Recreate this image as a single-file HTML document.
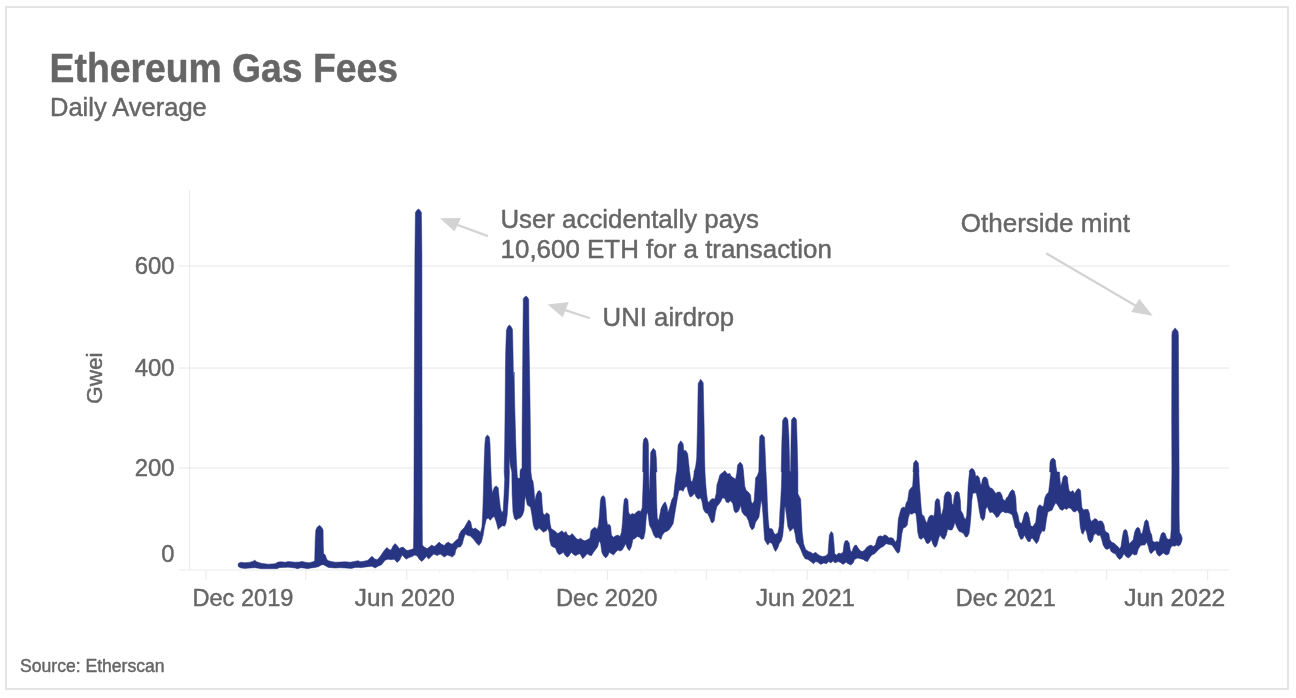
<!DOCTYPE html>
<html lang="en">
<head>
<meta charset="utf-8">
<title>Ethereum Gas Fees</title>
<style>
html,body{margin:0;padding:0;background:#fff;}
body{width:1296px;height:698px;overflow:hidden;}
svg{display:block;font-family:"Liberation Sans",sans-serif;}
text{fill:#666666;stroke:#666666;stroke-width:0.45px;stroke-linejoin:round;}
</style>
</head>
<body>
<svg width="1296" height="698" viewBox="0 0 1296 698" role="img" aria-label="Ethereum Gas Fees, daily average line chart">
<rect x="0" y="0" width="1296" height="698" fill="#ffffff"/>
<rect x="6" y="7" width="1282" height="682" fill="none" stroke="#e4e4e4" stroke-width="2"/>
<text x="49.6" y="81.7" font-size="41" font-weight="bold" textLength="348.4" lengthAdjust="spacingAndGlyphs">Ethereum Gas Fees</text>
<text x="50" y="115.7" font-size="25.6" textLength="156.8" lengthAdjust="spacingAndGlyphs">Daily Average</text>
<g stroke="#e6e6e6" stroke-width="1" fill="none">
<line x1="189.6" y1="190" x2="189.6" y2="570" stroke="#eaeaea"/>
<line x1="179" y1="266" x2="1229" y2="266"/>
<line x1="179" y1="368" x2="1229" y2="368"/>
<line x1="179" y1="468" x2="1229" y2="468"/>
<line x1="179" y1="570" x2="1229" y2="570" stroke="#ebebeb"/>
<line x1="206.00" y1="570" x2="206.00" y2="580" stroke="#e9e9e9"/>
<line x1="240.01" y1="570" x2="240.01" y2="574.5" stroke="#f4f4f4"/>
<line x1="274.02" y1="570" x2="274.02" y2="574.5" stroke="#f4f4f4"/>
<line x1="305.84" y1="570" x2="305.84" y2="580" stroke="#e9e9e9"/>
<line x1="339.85" y1="570" x2="339.85" y2="574.5" stroke="#f4f4f4"/>
<line x1="372.77" y1="570" x2="372.77" y2="574.5" stroke="#f4f4f4"/>
<line x1="406.78" y1="570" x2="406.78" y2="580" stroke="#e9e9e9"/>
<line x1="439.69" y1="570" x2="439.69" y2="574.5" stroke="#f4f4f4"/>
<line x1="473.70" y1="570" x2="473.70" y2="574.5" stroke="#f4f4f4"/>
<line x1="507.72" y1="570" x2="507.72" y2="580" stroke="#e9e9e9"/>
<line x1="540.63" y1="570" x2="540.63" y2="574.5" stroke="#f4f4f4"/>
<line x1="574.64" y1="570" x2="574.64" y2="574.5" stroke="#f4f4f4"/>
<line x1="607.56" y1="570" x2="607.56" y2="580" stroke="#e9e9e9"/>
<line x1="641.57" y1="570" x2="641.57" y2="574.5" stroke="#f4f4f4"/>
<line x1="675.58" y1="570" x2="675.58" y2="574.5" stroke="#f4f4f4"/>
<line x1="706.30" y1="570" x2="706.30" y2="580" stroke="#e9e9e9"/>
<line x1="740.31" y1="570" x2="740.31" y2="574.5" stroke="#f4f4f4"/>
<line x1="773.23" y1="570" x2="773.23" y2="574.5" stroke="#f4f4f4"/>
<line x1="807.24" y1="570" x2="807.24" y2="580" stroke="#e9e9e9"/>
<line x1="840.15" y1="570" x2="840.15" y2="574.5" stroke="#f4f4f4"/>
<line x1="874.16" y1="570" x2="874.16" y2="574.5" stroke="#f4f4f4"/>
<line x1="908.18" y1="570" x2="908.18" y2="580" stroke="#e9e9e9"/>
<line x1="941.09" y1="570" x2="941.09" y2="574.5" stroke="#f4f4f4"/>
<line x1="975.10" y1="570" x2="975.10" y2="574.5" stroke="#f4f4f4"/>
<line x1="1008.02" y1="570" x2="1008.02" y2="580" stroke="#e9e9e9"/>
<line x1="1042.03" y1="570" x2="1042.03" y2="574.5" stroke="#f4f4f4"/>
<line x1="1076.04" y1="570" x2="1076.04" y2="574.5" stroke="#f4f4f4"/>
<line x1="1106.76" y1="570" x2="1106.76" y2="580" stroke="#e9e9e9"/>
<line x1="1140.77" y1="570" x2="1140.77" y2="574.5" stroke="#f4f4f4"/>
<line x1="1173.69" y1="570" x2="1173.69" y2="574.5" stroke="#f4f4f4"/>
<line x1="1207.70" y1="570" x2="1207.70" y2="580" stroke="#e9e9e9"/>
</g>
<g font-size="24.6" text-anchor="end">
<text x="174.5" y="274.3" textLength="39.8" lengthAdjust="spacingAndGlyphs">600</text>
<text x="174.5" y="376.3" textLength="39.8" lengthAdjust="spacingAndGlyphs">400</text>
<text x="174.5" y="476.3" textLength="39.8" lengthAdjust="spacingAndGlyphs">200</text>
<text x="174.5" y="562.1" textLength="13.2" lengthAdjust="spacingAndGlyphs">0</text>
</g>
<text transform="translate(101.7,378.2) rotate(-90)" font-size="22.5" text-anchor="middle" textLength="51.5" lengthAdjust="spacingAndGlyphs">Gwei</text>
<g font-size="24.6">
<text x="192.4" y="606.3" textLength="101" lengthAdjust="spacingAndGlyphs">Dec 2019</text>
<text x="354.8" y="606.3" textLength="100" lengthAdjust="spacingAndGlyphs">Jun 2020</text>
<text x="556" y="606.3" textLength="101.5" lengthAdjust="spacingAndGlyphs">Dec 2020</text>
<text x="756" y="606.3" textLength="99" lengthAdjust="spacingAndGlyphs">Jun 2021</text>
<text x="955.8" y="606.3" textLength="100" lengthAdjust="spacingAndGlyphs">Dec 2021</text>
<text x="1124.2" y="606.3" textLength="101" lengthAdjust="spacingAndGlyphs">Jun 2022</text>
</g>
<g font-size="26.2">
<text x="500.4" y="227.7" textLength="258.5" lengthAdjust="spacingAndGlyphs">User accidentally pays</text>
<text x="500.6" y="257.9" textLength="331.3" lengthAdjust="spacingAndGlyphs">10,600 ETH for a transaction</text>
<text x="602.6" y="325.7" textLength="131.6" lengthAdjust="spacingAndGlyphs">UNI airdrop</text>
<text x="960.8" y="231.7" textLength="169.1" lengthAdjust="spacingAndGlyphs">Otherside mint</text>
</g>
<g stroke="#d3d3d3" stroke-width="2.2" fill="#d3d3d3">
<line x1="488" y1="236.1" x2="455" y2="224"/>
<polygon stroke="none" points="440,218.2 461,217.9 454.5,231.4"/>
<line x1="589.9" y1="318.2" x2="563" y2="309.4"/>
<polygon stroke="none" points="547.7,304.4 568.7,302.1 562.8,317.2"/>
<line x1="1046.1" y1="253.2" x2="1137" y2="306.5"/>
<polygon stroke="none" points="1152.7,315.8 1139.3,298.8 1131.2,311.9"/>
</g>
<path d="M238.0 565.0 L238.5 563.2 L241.0 562.2 L245.0 562.7 L250.0 562.2 L253.1 561.2 L254.8 560.2 L256.6 561.7 L261.1 563.2 L268.1 564.2 L275.1 563.7 L278.1 562.0 L281.1 561.7 L285.2 562.2 L288.2 561.5 L295.2 562.2 L299.2 562.0 L302.2 561.4 L305.2 562.2 L309.2 562.7 L313.2 561.7 L314.7 560.7 L315.2 540.1 L315.8 530.1 L317.3 527.1 L319.6 525.2 L321.8 527.6 L323.1 530.1 L323.3 545.1 L323.6 553.6 L325.3 555.1 L326.8 559.2 L328.3 560.7 L331.3 561.4 L335.3 562.2 L340.3 562.0 L345.3 561.7 L350.4 562.2 L355.4 561.2 L358.4 560.7 L360.0 561.7 L364.0 561.2 L368.0 560.2 L370.0 557.9 L372.0 556.3 L374.5 558.7 L377.1 559.7 L380.1 556.6 L383.1 552.1 L385.1 549.3 L387.1 547.6 L389.1 549.6 L391.1 550.1 L392.6 546.6 L395.1 543.6 L397.6 546.1 L399.1 548.6 L401.1 547.6 L403.1 547.1 L405.1 549.1 L407.1 550.6 L409.2 550.1 L411.2 549.6 L413.5 548.6 L413.9 510.0 L414.2 400.0 L414.9 255.0 L415.4 212.5 L416.8 210.3 L418.4 209.1 L420.0 210.3 L421.4 212.5 L421.9 255.0 L422.0 400.0 L422.2 510.0 L422.4 545.1 L424.2 547.1 L427.2 548.6 L429.2 547.1 L431.7 545.1 L434.2 546.6 L436.2 545.1 L439.2 542.1 L441.3 544.1 L444.3 545.6 L445.8 543.6 L448.3 542.1 L450.3 543.6 L452.3 544.1 L454.3 542.1 L456.3 540.1 L458.3 538.6 L459.3 534.1 L461.3 530.6 L464.3 527.6 L466.3 524.0 L468.8 519.8 L470.8 522.0 L471.8 527.6 L473.4 529.1 L475.4 528.1 L477.9 530.1 L479.9 531.6 L480.3 532.9 L482.0 526.5 L482.9 507.8 L483.5 486.3 L483.9 472.0 L484.3 458.0 L484.9 443.7 L485.5 437.6 L486.5 435.9 L487.5 435.1 L488.5 435.9 L489.5 437.6 L490.0 443.7 L490.5 458.0 L491.0 472.0 L491.5 483.5 L492.2 493.5 L493.2 489.9 L494.6 487.0 L496.3 485.9 L498.2 487.8 L499.2 497.8 L500.4 507.8 L501.8 512.8 L503.2 510.7 L504.1 493.5 L504.7 479.2 L504.2 472.0 L504.7 443.7 L505.1 407.8 L505.4 372.0 L505.7 351.7 L506.4 330.2 L507.8 326.6 L509.4 325.1 L511.1 326.6 L512.5 329.4 L513.0 351.7 L513.5 380.0 L514.1 372.0 L514.8 407.8 L515.6 436.5 L516.3 458.0 L517.0 470.9 L517.3 476.3 L518.0 478.3 L519.0 478.6 L519.9 477.7 L520.1 470.9 L520.7 469.2 L522.0 468.3 L522.1 429.3 L522.6 372.0 L522.9 337.3 L523.3 298.6 L524.7 296.9 L525.9 296.1 L527.2 296.9 L528.7 299.3 L529.0 337.3 L529.7 380.0 L530.2 415.0 L530.9 472.0 L531.9 479.2 L533.0 481.3 L534.0 489.2 L534.8 500.7 L536.2 494.9 L537.9 491.3 L539.8 490.6 L541.6 493.5 L542.2 505.0 L543.1 513.6 L544.8 515.0 L546.5 512.8 L548.4 513.8 L549.4 515.0 L550.1 523.6 L551.2 528.6 L553.4 530.0 L555.5 531.5 L557.7 533.6 L559.8 532.2 L562.0 530.8 L564.1 532.9 L566.0 531.5 L567.7 535.1 L569.9 535.8 L572.0 533.6 L574.2 535.8 L576.3 538.6 L578.5 539.4 L580.6 538.2 L582.8 540.1 L584.9 540.8 L587.8 539.4 L589.9 537.9 L590.9 530.8 L592.8 528.6 L594.9 527.2 L597.1 529.3 L598.5 525.0 L599.5 515.0 L600.4 500.7 L601.4 497.1 L603.3 495.6 L605.0 497.8 L606.0 507.8 L606.7 519.3 L607.6 525.0 L609.3 524.3 L610.7 526.5 L611.4 535.1 L613.6 537.2 L615.7 535.8 L617.9 535.1 L620.0 536.5 L621.5 532.2 L622.5 522.2 L623.3 507.8 L624.3 499.2 L626.0 497.8 L627.9 499.9 L628.6 512.1 L630.1 515.0 L632.2 513.6 L634.4 514.3 L636.5 512.1 L638.7 510.7 L640.8 511.4 L642.2 507.8 L643.0 486.3 L643.4 472.0 L642.7 472.0 L643.0 443.7 L643.7 439.4 L645.6 437.2 L647.6 439.4 L648.4 443.7 L648.7 472.0 L649.0 486.6 L649.3 493.1 L649.6 486.6 L650.0 472.0 L650.7 452.3 L653.3 448.2 L655.6 450.8 L656.3 458.0 L656.9 472.0 L655.9 472.0 L656.6 500.7 L657.3 517.9 L658.7 520.7 L661.0 508.5 L663.1 504.2 L665.3 501.8 L667.0 506.4 L667.9 512.8 L669.6 507.8 L671.7 499.9 L673.6 496.4 L674.6 486.3 L675.8 476.3 L676.5 472.0 L676.7 472.0 L677.4 458.0 L678.1 445.1 L680.7 440.8 L683.1 443.7 L683.8 450.8 L685.7 450.5 L687.7 453.7 L688.9 465.1 L689.6 472.0 L689.7 472.0 L690.8 480.6 L692.2 482.0 L693.7 476.3 L694.2 472.0 L693.9 472.0 L695.3 468.0 L696.0 463.7 L696.7 458.0 L697.4 429.3 L697.9 400.7 L698.2 383.5 L700.6 379.2 L703.2 382.7 L703.6 400.7 L704.2 429.3 L704.6 458.0 L705.0 472.0 L705.0 472.0 L705.7 483.5 L706.6 493.5 L707.6 500.7 L709.0 502.8 L710.4 499.9 L712.6 498.5 L714.7 499.2 L716.2 493.5 L716.9 484.9 L718.3 480.6 L719.8 474.9 L721.9 473.1 L723.2 472.3 L724.7 470.6 L726.1 472.3 L727.6 474.1 L729.8 473.4 L731.2 476.3 L733.4 477.7 L735.5 479.2 L737.0 472.0 L736.9 472.0 L737.6 465.1 L740.2 462.0 L742.6 465.1 L743.6 472.0 L743.5 472.0 L744.8 486.3 L746.3 490.6 L748.4 492.1 L750.6 494.9 L751.3 502.1 L752.7 503.5 L754.1 500.7 L754.9 489.2 L755.6 477.7 L757.0 476.3 L758.7 472.0 L758.8 472.0 L759.4 443.7 L759.8 436.5 L761.9 434.3 L764.5 437.2 L765.1 450.8 L766.0 472.0 L766.0 472.0 L766.8 486.3 L767.3 500.7 L768.2 519.3 L769.2 528.6 L771.1 528.6 L772.5 529.3 L774.2 533.6 L775.6 534.3 L777.8 532.9 L779.2 526.5 L779.9 512.1 L780.7 500.7 L781.4 486.3 L781.8 472.0 L781.2 472.0 L781.8 443.7 L782.6 420.7 L784.0 418.1 L785.5 417.1 L786.9 418.1 L787.9 420.0 L788.9 436.5 L789.8 470.9 L790.2 471.6 L790.6 470.9 L791.1 436.5 L791.5 420.0 L792.9 417.9 L794.1 417.1 L795.4 418.1 L796.5 420.0 L797.2 443.7 L797.9 472.0 L797.9 493.5 L799.3 496.4 L800.7 499.2 L801.4 515.0 L802.2 532.2 L803.6 543.7 L805.7 549.4 L808.6 551.5 L810.8 552.3 L812.9 553.7 L815.8 552.3 L817.9 554.4 L820.1 555.8 L822.9 556.6 L825.8 555.8 L828.0 553.7 L828.7 543.7 L829.4 535.1 L831.2 531.5 L833.0 533.6 L834.0 543.7 L834.7 553.7 L836.6 555.1 L838.7 553.0 L840.9 553.7 L843.0 552.3 L844.1 543.7 L845.2 540.8 L846.0 540.8 L847.4 540.5 L849.2 542.9 L850.3 550.1 L851.7 552.3 L853.2 548.0 L854.6 545.4 L856.3 545.1 L858.2 548.0 L860.3 550.8 L862.5 551.5 L864.6 550.1 L866.8 547.2 L868.9 545.8 L871.1 545.1 L873.2 546.5 L875.4 545.1 L876.8 539.4 L878.2 536.5 L880.4 535.8 L882.5 536.5 L884.7 534.8 L886.8 535.8 L889.0 537.9 L891.1 537.6 L893.3 538.6 L895.4 542.2 L896.9 539.4 L897.6 529.3 L898.3 519.3 L899.7 513.6 L901.2 508.5 L903.3 507.1 L905.0 507.8 L906.2 502.8 L907.6 500.7 L909.1 490.6 L911.2 487.8 L912.6 486.3 L913.1 479.2 L913.4 472.0 L913.0 472.0 L913.6 463.0 L915.9 460.1 L918.3 463.0 L919.0 472.0 L918.8 472.0 L919.4 483.5 L920.2 493.5 L921.2 507.8 L922.0 514.3 L924.1 516.4 L925.5 520.7 L927.0 522.9 L928.4 517.9 L929.8 515.7 L932.0 515.0 L933.7 516.4 L934.6 512.1 L935.1 502.1 L936.3 499.2 L937.7 498.5 L939.4 499.9 L940.3 507.8 L941.0 515.0 L942.0 513.6 L943.4 507.8 L944.2 496.4 L945.6 492.8 L947.7 491.6 L949.9 492.3 L951.3 494.9 L952.0 503.5 L953.2 505.0 L954.2 496.4 L955.2 492.8 L957.1 491.3 L959.2 492.8 L960.4 500.7 L960.9 510.7 L962.8 513.6 L964.2 517.9 L965.7 519.3 L966.7 515.0 L967.5 500.7 L968.1 486.3 L969.0 476.3 L969.5 472.0 L969.0 472.0 L970.0 469.7 L971.9 468.3 L973.9 469.7 L974.8 472.0 L975.0 472.0 L975.7 476.3 L977.6 475.6 L979.3 477.7 L980.4 483.5 L981.4 484.9 L982.4 479.2 L983.9 477.0 L985.7 477.0 L987.6 479.2 L988.6 484.9 L990.0 487.8 L992.2 488.5 L994.3 491.3 L995.8 493.5 L997.9 492.1 L1000.1 492.1 L1001.9 494.9 L1002.9 499.2 L1005.1 500.7 L1006.5 497.8 L1007.9 496.4 L1010.1 492.1 L1012.2 489.5 L1014.4 491.3 L1015.8 497.8 L1016.5 510.7 L1018.0 515.0 L1019.4 522.2 L1021.6 523.6 L1023.0 519.3 L1024.4 513.6 L1026.3 511.4 L1028.0 512.8 L1029.4 517.9 L1030.7 525.7 L1032.9 526.5 L1035.7 522.2 L1037.2 509.3 L1038.6 505.7 L1040.0 504.7 L1042.2 506.4 L1043.6 505.7 L1044.8 497.8 L1046.5 494.2 L1048.6 492.1 L1049.6 483.5 L1050.5 474.9 L1050.8 472.0 L1049.6 472.0 L1050.0 462.3 L1051.0 459.4 L1053.2 458.0 L1055.3 460.1 L1056.0 466.6 L1057.0 472.0 L1059.4 472.0 L1060.1 480.6 L1060.8 486.3 L1062.0 482.0 L1063.0 477.0 L1065.1 475.2 L1067.3 477.0 L1068.0 483.5 L1069.1 490.6 L1070.9 492.1 L1073.0 490.6 L1074.4 493.5 L1075.9 491.3 L1077.3 489.2 L1078.7 488.5 L1080.6 490.6 L1081.3 500.7 L1082.0 507.8 L1083.8 510.0 L1085.9 509.3 L1088.1 509.5 L1089.5 513.6 L1090.2 519.3 L1091.6 521.4 L1093.1 520.0 L1094.9 518.6 L1096.7 519.3 L1098.4 521.4 L1100.2 520.7 L1102.4 521.4 L1104.1 525.0 L1105.0 530.8 L1106.7 532.2 L1108.8 533.6 L1109.8 539.4 L1111.7 542.2 L1113.9 542.9 L1116.0 545.1 L1117.9 546.5 L1119.6 548.7 L1121.0 546.5 L1122.4 536.5 L1123.6 530.8 L1125.3 529.3 L1127.0 530.8 L1128.2 536.5 L1129.2 543.7 L1131.0 542.2 L1133.2 539.4 L1134.6 532.2 L1136.1 528.6 L1137.9 527.2 L1139.6 528.6 L1140.8 533.6 L1142.2 533.6 L1143.7 526.5 L1144.7 521.4 L1146.5 519.6 L1148.2 521.4 L1149.4 527.9 L1150.4 532.2 L1151.8 535.1 L1152.5 540.8 L1154.7 542.2 L1156.8 541.5 L1159.0 542.2 L1160.4 536.5 L1161.4 533.6 L1163.3 532.2 L1165.2 533.6 L1166.6 537.9 L1168.3 539.4 L1170.5 538.6 L1171.2 529.3 L1171.5 500.7 L1171.9 472.0 L1171.7 420.0 L1171.9 335.0 L1172.3 331.4 L1175.1 327.9 L1178.0 331.4 L1178.4 335.0 L1178.8 420.0 L1179.1 472.0 L1179.1 515.0 L1179.5 532.2 L1181.2 535.1 L1182.2 537.9 L1182.2 537.9 L1181.9 540.8 L1180.5 544.4 L1178.3 546.2 L1176.9 545.1 L1174.8 546.2 L1172.6 545.8 L1170.5 548.0 L1169.0 553.7 L1166.9 555.1 L1165.2 554.4 L1163.3 553.0 L1161.1 555.1 L1159.0 556.3 L1156.8 553.7 L1155.4 549.4 L1153.3 551.5 L1151.1 553.7 L1149.7 552.3 L1148.2 546.5 L1146.8 542.2 L1144.7 545.1 L1142.5 545.1 L1140.4 545.8 L1138.2 549.4 L1136.8 554.4 L1134.6 555.1 L1132.5 553.7 L1130.3 556.6 L1128.2 558.0 L1126.0 556.6 L1123.9 553.7 L1121.7 558.0 L1119.6 559.4 L1117.4 557.3 L1115.3 553.7 L1113.1 553.0 L1111.0 551.5 L1109.6 548.0 L1107.4 549.4 L1105.3 548.7 L1103.1 545.1 L1101.7 539.4 L1100.2 535.1 L1098.1 535.8 L1095.9 533.6 L1093.8 535.1 L1092.4 540.8 L1090.2 542.9 L1088.1 539.4 L1086.6 532.2 L1085.2 529.3 L1083.0 534.3 L1081.6 532.9 L1080.2 526.5 L1079.2 513.6 L1077.3 510.0 L1075.2 512.1 L1073.0 511.4 L1070.9 508.5 L1068.7 507.8 L1066.6 509.5 L1064.4 508.5 L1062.3 510.4 L1060.1 509.3 L1058.0 505.7 L1055.8 502.8 L1053.7 506.4 L1052.2 510.0 L1050.1 511.0 L1047.9 512.1 L1046.5 519.3 L1045.1 529.3 L1044.3 531.5 L1042.2 530.8 L1040.0 535.1 L1038.6 540.8 L1036.5 543.7 L1034.3 540.8 L1032.2 537.9 L1030.7 539.4 L1030.2 541.5 L1028.0 541.5 L1025.9 537.9 L1024.4 535.1 L1023.0 538.6 L1020.8 539.4 L1018.7 535.1 L1017.3 529.3 L1015.1 527.2 L1013.7 520.7 L1012.2 515.0 L1010.1 513.6 L1007.9 512.8 L1005.1 512.8 L1002.9 511.4 L1000.8 512.8 L998.6 516.4 L996.5 517.6 L994.3 514.3 L992.2 512.1 L990.0 512.8 L988.6 510.0 L987.2 506.4 L985.7 509.3 L984.7 517.9 L982.9 520.7 L980.7 517.9 L979.3 510.7 L977.8 500.7 L976.4 493.5 L975.0 492.8 L972.8 493.5 L971.8 500.7 L971.0 515.0 L970.0 526.5 L969.0 533.6 L967.5 536.5 L965.7 537.2 L963.5 533.6 L961.4 532.2 L959.2 531.5 L957.1 527.9 L954.9 522.2 L953.8 526.5 L952.0 530.0 L949.9 530.0 L947.7 529.3 L946.3 535.1 L944.2 539.4 L942.0 537.9 L939.9 535.1 L938.4 539.4 L937.0 545.1 L935.6 547.2 L934.1 546.5 L932.7 543.7 L931.3 539.4 L929.8 542.2 L928.0 543.7 L926.3 542.9 L924.8 539.4 L923.4 537.2 L921.2 539.4 L919.1 537.9 L917.7 532.2 L916.9 522.2 L915.9 513.6 L914.1 512.8 L911.9 514.3 L909.8 513.6 L908.3 517.9 L907.3 525.0 L905.5 527.2 L903.3 527.9 L901.9 533.6 L900.7 543.7 L899.7 551.5 L897.9 553.4 L896.2 551.5 L894.0 548.0 L891.9 545.1 L889.0 544.4 L886.1 543.7 L883.3 546.5 L880.4 548.0 L877.5 550.8 L874.7 553.7 L871.8 555.1 L869.6 558.0 L867.5 561.6 L865.3 560.9 L863.2 559.4 L860.3 558.7 L857.5 558.0 L854.6 559.4 L853.2 563.0 L851.0 565.1 L848.1 563.7 L846.0 562.3 L843.0 564.4 L840.1 562.3 L838.0 561.6 L835.1 563.0 L833.0 560.9 L830.8 563.0 L828.7 561.6 L826.5 563.7 L823.7 563.0 L820.8 564.4 L817.9 562.3 L815.8 561.6 L813.6 563.7 L810.8 561.6 L807.9 559.4 L805.0 558.7 L802.9 555.1 L800.7 549.4 L798.6 545.1 L796.4 542.2 L795.0 533.6 L793.6 527.9 L792.1 529.3 L790.0 531.5 L787.8 526.5 L786.4 515.0 L785.1 505.7 L784.5 509.3 L784.0 522.2 L782.8 535.1 L781.4 540.8 L779.2 543.7 L777.8 548.0 L775.6 551.5 L774.2 549.4 L772.1 543.7 L769.9 542.2 L767.8 545.1 L764.6 539.9 L763.8 528.0 L763.0 515.0 L762.3 506.0 L761.3 499.5 L760.2 508.0 L759.0 517.0 L757.7 519.3 L755.6 522.2 L754.1 527.9 L752.0 530.0 L749.9 526.5 L748.4 520.7 L746.3 516.4 L744.1 515.0 L742.0 512.1 L740.5 505.0 L739.5 509.3 L737.7 512.1 L735.5 512.8 L734.1 510.7 L732.7 503.5 L730.5 500.7 L728.4 502.8 L726.2 502.1 L724.8 498.5 L722.6 497.8 L720.5 502.1 L718.3 505.0 L716.9 506.4 L715.5 512.1 L714.3 520.7 L712.6 522.9 L711.2 522.2 L709.7 517.9 L707.6 513.6 L705.4 512.8 L703.3 509.3 L701.8 500.7 L700.4 497.8 L698.3 499.2 L696.1 497.1 L694.7 493.5 L693.2 494.9 L691.1 497.1 L689.7 496.4 L688.2 492.1 L686.8 486.3 L684.6 487.8 L683.2 491.3 L681.1 489.9 L678.9 490.6 L677.5 497.8 L676.0 506.4 L674.6 515.0 L673.2 523.6 L671.0 527.2 L668.9 530.0 L666.7 531.5 L664.6 532.2 L662.4 535.1 L661.0 539.4 L658.0 537.2 L655.9 537.9 L653.7 535.1 L651.6 529.3 L649.4 525.0 L647.7 512.1 L646.5 515.0 L645.1 532.2 L643.7 538.6 L641.5 539.4 L639.4 537.2 L637.2 536.5 L635.1 538.6 L632.9 539.4 L631.5 546.5 L629.3 550.8 L627.2 548.0 L625.8 543.7 L624.3 546.5 L622.2 550.1 L620.0 551.1 L617.9 550.1 L615.7 552.3 L613.6 555.1 L611.4 553.7 L609.3 552.3 L607.8 555.8 L605.7 558.0 L603.5 555.8 L601.8 552.3 L600.7 543.7 L599.2 540.8 L597.8 546.5 L595.7 549.4 L593.5 552.3 L591.4 555.8 L589.2 555.1 L587.1 553.7 L584.9 556.6 L582.8 558.7 L579.9 553.7 L577.7 554.4 L575.6 555.8 L573.4 554.4 L571.3 552.3 L569.1 555.8 L567.0 557.3 L564.9 555.1 L563.4 552.3 L561.3 553.7 L559.1 554.8 L557.0 552.3 L555.5 548.0 L553.4 547.2 L551.2 545.8 L549.8 540.8 L549.1 532.2 L547.7 528.6 L546.2 530.8 L543.4 532.2 L541.2 530.0 L539.1 527.9 L536.9 530.5 L534.8 529.3 L533.3 525.0 L531.9 515.0 L530.5 507.1 L528.3 505.7 L527.3 505.0 L526.4 500.7 L525.6 495.6 L524.7 500.7 L524.0 510.7 L522.6 515.0 L520.4 517.9 L518.3 518.6 L516.1 520.3 L514.4 518.6 L513.0 512.1 L512.1 493.5 L511.8 472.0 L510.2 465.0 L509.7 456.0 L509.2 465.0 L509.4 472.0 L509.0 486.3 L508.2 500.7 L507.2 515.0 L506.1 522.9 L504.7 526.2 L502.5 525.7 L500.4 527.2 L498.2 529.6 L496.1 521.4 L494.3 516.4 L492.5 517.6 L490.3 520.3 L488.2 518.1 L486.3 519.3 L484.6 526.5 L483.2 535.1 L481.4 542.2 L478.9 545.6 L476.4 543.1 L473.4 539.1 L470.3 536.1 L467.8 535.6 L465.3 534.1 L463.8 538.1 L462.3 544.1 L460.3 547.1 L457.8 547.1 L455.8 550.1 L454.8 554.6 L452.3 557.1 L450.3 556.1 L447.3 555.1 L444.3 557.1 L442.3 555.6 L440.2 554.1 L437.2 555.6 L433.7 554.1 L431.2 556.6 L428.7 559.0 L426.2 556.6 L424.2 559.2 L421.7 561.4 L419.2 559.2 L417.2 556.1 L414.7 555.1 L412.2 556.6 L409.2 557.6 L406.1 559.2 L404.1 557.1 L402.1 555.1 L399.6 560.2 L397.1 562.4 L394.1 559.2 L391.1 559.7 L388.1 559.2 L385.1 560.2 L381.6 564.7 L378.1 566.2 L375.0 568.0 L372.0 566.2 L368.0 566.7 L364.0 567.2 L360.0 567.7 L359.4 567.4 L355.4 567.4 L351.4 568.4 L345.3 568.0 L340.3 567.7 L335.3 568.0 L331.3 567.7 L328.3 567.4 L325.3 565.7 L323.3 564.7 L321.3 565.0 L318.3 566.7 L315.2 567.4 L311.2 568.0 L307.2 568.7 L305.2 568.2 L301.2 567.7 L297.2 568.7 L295.2 568.0 L288.2 567.2 L283.1 567.4 L279.1 567.7 L277.1 568.7 L268.1 568.7 L261.1 568.7 L255.1 567.7 L250.0 568.0 L245.0 568.4 L241.0 568.0 L238.5 566.7 L238.0 565.0 Z" fill="#283583" stroke="#283583" stroke-width="0.5" stroke-linejoin="round"/>
<text x="20" y="672" font-size="18" textLength="144.6" lengthAdjust="spacingAndGlyphs">Source: Etherscan</text>
</svg>
</body>
</html>
